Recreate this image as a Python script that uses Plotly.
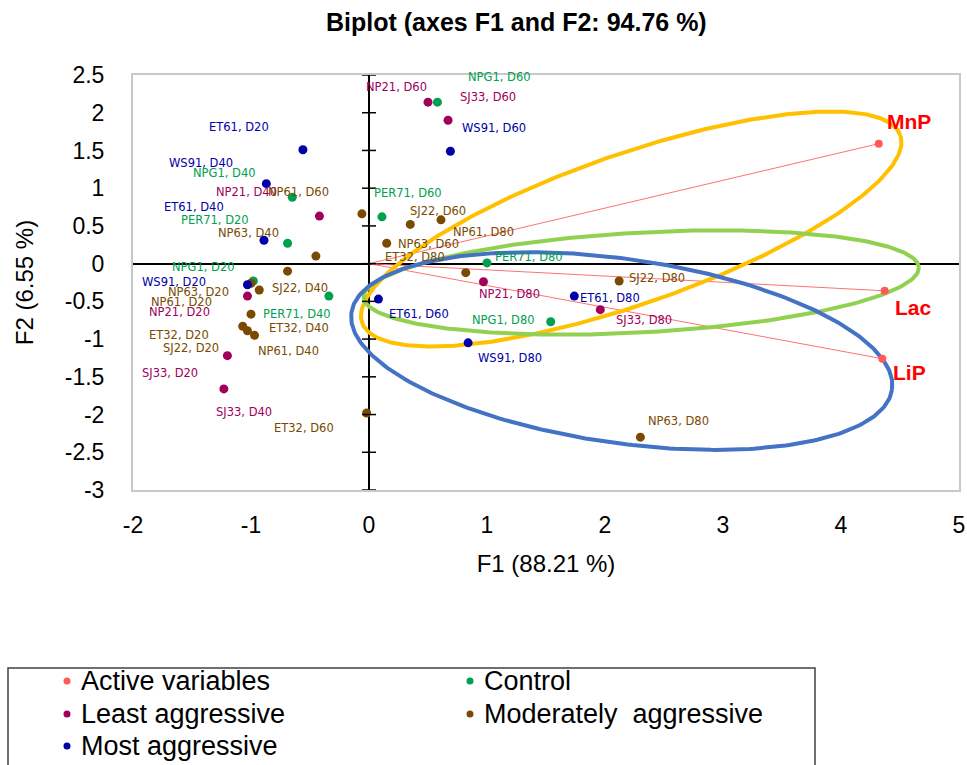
import numpy as np
import plotly.graph_objects as go

FONT = "Liberation Sans, Arial, sans-serif"
LABEL_FONT = "DejaVu Sans, Verdana, sans-serif"

# ---------------- data ----------------
var_names = ["MnP", "Lac", "LiP"]
var_f1 = [4.32, 4.37, 4.35]
var_f2 = [1.59, -0.36, -1.26]

control_labels = ["NPG1, D20", "NPG1, D40", "NPG1, D60", "NPG1, D80",
                  "PER71, D20", "PER71, D40", "PER71, D60", "PER71, D80"]
control_f1 = [-0.98, -0.65, 0.58, 1.54, -0.69, -0.34, 0.11, 1.00]
control_f2 = [-0.23, 0.88, 2.14, -0.77, 0.27, -0.43, 0.62, 0.01]

least_labels = ["NP21, D20", "NP21, D40", "NP21, D60", "NP21, D80",
                "SJ33, D20", "SJ33, D40", "SJ33, D60", "SJ33, D80"]
least_f1 = [-1.03, -0.42, 0.50, 0.97, -1.20, -1.23, 0.67, 1.96]
least_f2 = [-0.43, 0.63, 2.14, -0.24, -1.22, -1.66, 1.90, -0.61]

moderate_labels = ["NP63, D20", "NP63, D40", "NP63, D60", "NP63, D80",
                   "NP61, D20", "NP61, D40", "NP61, D60", "NP61, D80",
                   "SJ22, D20", "SJ22, D40", "SJ22, D60", "SJ22, D80",
                   "ET32, D20", "ET32, D40", "ET32, D60", "ET32, D80"]
moderate_f1 = [-0.93, -0.45, 0.15, 2.30, -1.00, -0.97, -0.06, 0.61,
               -1.03, -0.69, 0.35, 2.12, -1.07, -1.00, -0.02, 0.82]
moderate_f2 = [-0.35, 0.10, 0.27, -2.30, -0.26, -0.95, 0.66, 0.58,
               -0.89, -0.10, 0.52, -0.23, -0.83, -0.67, -1.98, -0.12]

most_labels = ["ET61, D20", "ET61, D40", "ET61, D60", "ET61, D80",
               "WS91, D20", "WS91, D40", "WS91, D60", "WS91, D80"]
most_f1 = [-0.56, -0.89, 0.08, 1.74, -1.03, -0.87, 0.69, 0.84]
most_f2 = [1.51, 0.31, -0.47, -0.43, -0.28, 1.06, 1.49, -1.05]

x_ticks = [-2, -1, 0, 1, 2, 3, 4, 5]
y_ticks = [-3, -2.5, -2, -1.5, -1, -0.5, 0, 0.5, 1, 1.5, 2, 2.5]

# ---------------- layout / style (label offsets in pixels) ----------------
var_label_off = [(30, 22), (29, -17), (27, -14)]
control_off = [(-50, 14), (-68, 24), (62, 25), (-47, 2),
               (-73, 23), (-32, -18), (26, 24), (42, 6)]
least_off = [(-68, -16), (-73, 24), (-32, 15), (26, -12),
             (-57, -17), (20, -23), (40, 23), (44, -10)]
moderate_off = [(-61, -2), (-67, 23), (42, -1), (38, 16),
                (-70, -19), (34, -16), (-63, 22), (43, -12),
                (-56, -17), (12, -17), (28, 13), (38, 3),
                (-64, -9), (48, -14), (-63, -15), (-51, 16)]
most_off = [(-64, 23), (-70, 33), (41, -15), (36, -2),
            (-73, 3), (-65, 21), (44, 23), (42, -15)]

C_ACTIVE = "#FF5A5A"
C_CONTROL = "#00A050"
C_LEAST = "#A0005C"
C_MOD = "#7A4A00"
C_MOST = "#0000A8"

W, H = 967, 765
ML, MR, MT, MB = 133, 8, 75, 275
XR = [-2, 5]
YR = [-3, 2.5]
PW, PH = W - ML - MR, H - MT - MB
PXX = PW / (XR[1] - XR[0])
PXY = PH / (YR[1] - YR[0])


def px_to_paper(px, py):
    return (px - ML) / PW, (H - MB - py) / PH


fig = go.Figure()

# vectors of active variables
vx, vy = [], []
for a, b in zip(var_f1, var_f2):
    vx += [0, a, None]
    vy += [0, b, None]
fig.add_trace(go.Scatter(x=vx, y=vy, mode="lines", line=dict(color="#FF7272", width=1),
                         showlegend=False, hoverinfo="skip"))

# ellipses (center in data units, semi-axes in px, angle in degrees)
ellipses = [
    (2.222, 0.459, 285, 75, 19.2, "#FFC000"),
    (2.307, -0.250, 278, 50, 3.1, "#92D050"),
    (2.142, -1.158, 273, 92, -8.1, "#4472C4"),
]
t = np.linspace(0, 2 * np.pi, 361)
for cx, cy, a, b, ang, col in ellipses:
    th = np.radians(ang)
    ex = cx + (a * np.cos(t) * np.cos(th) - b * np.sin(t) * np.sin(th)) / PXX
    ey = cy + (a * np.cos(t) * np.sin(th) + b * np.sin(t) * np.cos(th)) / PXY
    fig.add_trace(go.Scatter(x=ex, y=ey, mode="lines", line=dict(color=col, width=4),
                             showlegend=False, hoverinfo="skip"))

groups = [
    ("Active variables", var_f1, var_f2, var_names, C_ACTIVE, 8),
    ("Control", control_f1, control_f2, control_labels, C_CONTROL, 9),
    ("Least aggressive", least_f1, least_f2, least_labels, C_LEAST, 9),
    ("Moderately  aggressive", moderate_f1, moderate_f2, moderate_labels, C_MOD, 9),
    ("Most aggressive", most_f1, most_f2, most_labels, C_MOST, 9),
]
for name, xs, ys, labs, col, sz in groups:
    fig.add_trace(go.Scatter(x=xs, y=ys, mode="markers", name=name, text=labs,
                             marker=dict(color=col, size=sz), showlegend=False,
                             hovertemplate="%{text}<br>F1=%{x}<br>F2=%{y}<extra></extra>"))

annotations = []
label_sets = [
    (var_f1, var_f2, var_names, var_label_off, "#FF0000", 21, True),
    (control_f1, control_f2, control_labels, control_off, C_CONTROL, 11.5, False),
    (least_f1, least_f2, least_labels, least_off, C_LEAST, 11.5, False),
    (moderate_f1, moderate_f2, moderate_labels, moderate_off, C_MOD, 11.5, False),
    (most_f1, most_f2, most_labels, most_off, C_MOST, 11.5, False),
]
for xs, ys, labs, offs, col, fs, bold in label_sets:
    for xv, yv, lab, (dx, dy) in zip(xs, ys, labs, offs):
        annotations.append(dict(
            x=xv, y=yv, text=f"<b>{lab}</b>" if bold else lab, showarrow=False,
            xshift=dx, yshift=dy, xanchor="center", yanchor="middle",
            font=dict(family=FONT if bold else LABEL_FONT, size=fs, color=col)))

# tick marks crossing the vertical zero axis
shapes = []
for yt in y_ticks:
    shapes.append(dict(type="line", xref="x", yref="y", x0=-7 / PXX, x1=7 / PXX,
                       y0=yt, y1=yt, line=dict(color="black", width=1.5)))

# manual legend box (two columns, cut by the bottom edge like the original)
lx0, ly0 = px_to_paper(8, 668)
lx1, ly1 = px_to_paper(815, 772)
shapes.append(dict(type="rect", xref="paper", yref="paper", x0=lx0, y0=ly0, x1=lx1, y1=ly1,
                   line=dict(color="#404040", width=1.5), fillcolor="rgba(0,0,0,0)"))
legend_cells = [(67, 681), (470, 681), (67, 714), (470, 714), (67, 746)]
for (name, _, _, _, col, _), (dxp, dyp) in zip(groups, legend_cells):
    mx, my = px_to_paper(dxp, dyp)
    shapes.append(dict(type="circle", xref="paper", yref="paper",
                       xsizemode="pixel", ysizemode="pixel", xanchor=mx, yanchor=my,
                       x0=-3.5, x1=3.5, y0=-3.5, y1=3.5,
                       fillcolor=col, line=dict(width=0)))
    tx, ty = px_to_paper(dxp + 12, dyp)
    annotations.append(dict(x=tx, y=ty, xref="paper", yref="paper", text=name,
                            showarrow=False, xanchor="left", yanchor="middle",
                            font=dict(family=FONT, size=27, color="black")))

fig.update_layout(
    width=W, height=H,
    margin=dict(l=ML, r=MR, t=MT, b=MB, autoexpand=False),
    paper_bgcolor="white", plot_bgcolor="white",
    showlegend=False,
    title=dict(text="<b>Biplot (axes F1 and F2: 94.76 %)</b>", x=0.534, xref="container",
               y=1 - 22 / H, yref="container", xanchor="center", yanchor="middle",
               font=dict(family=FONT, size=25, color="black")),
    font=dict(family=FONT, color="black"),
    xaxis=dict(range=XR, tickvals=x_ticks, ticktext=[str(v) for v in x_ticks],
               showgrid=False, zeroline=True, zerolinecolor="black", zerolinewidth=1.5,
               showline=True, mirror=True, linecolor="#C8C8C8", linewidth=2,
               ticks="", ticklabelstandoff=13, tickfont=dict(size=23, family=FONT),
               title=dict(text="F1 (88.21 %)", font=dict(size=24, family=FONT), standoff=19)),
    yaxis=dict(range=YR, tickvals=y_ticks, ticktext=[f"{v:g}" for v in y_ticks],
               showgrid=False, zeroline=True, zerolinecolor="black", zerolinewidth=1.5,
               showline=True, mirror=True, linecolor="#C8C8C8", linewidth=2,
               ticks="", ticklabelstandoff=22, tickfont=dict(size=23, family=FONT),
               title=dict(text="F2 (6.55 %)", font=dict(size=24, family=FONT), standoff=24)),
    annotations=annotations,
    shapes=shapes,
)

fig.write_html("out.html")
